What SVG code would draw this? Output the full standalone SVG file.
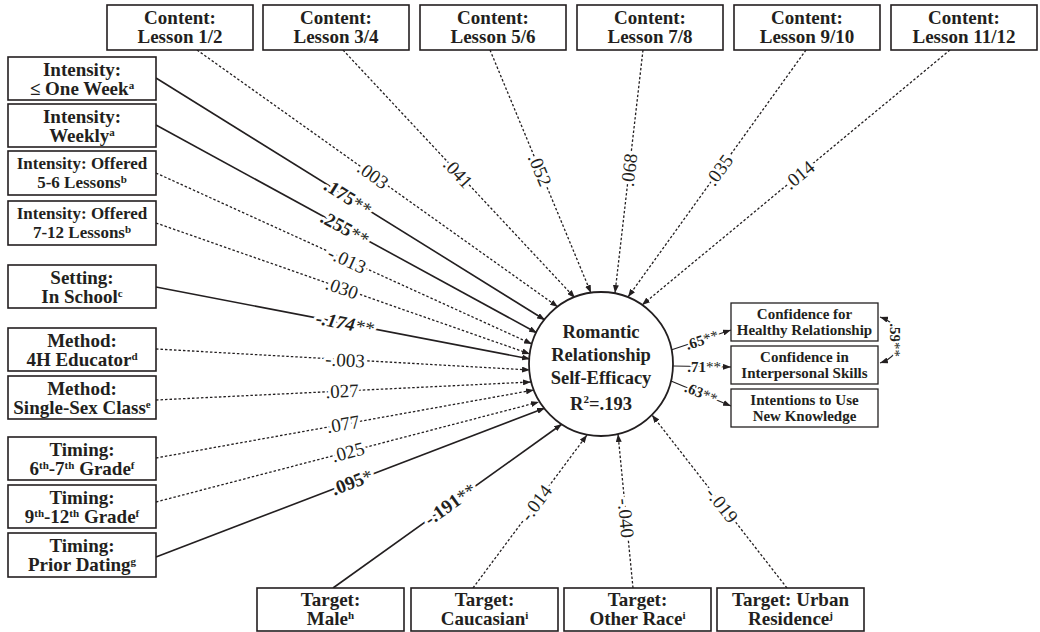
<svg xmlns="http://www.w3.org/2000/svg" width="1040" height="632" viewBox="0 0 1040 632" font-family="'Liberation Serif', 'Times New Roman', 'DejaVu Serif', serif">
<defs>
<marker id="ah" viewBox="0 0 8 6" refX="8" refY="3" markerWidth="8" markerHeight="6" markerUnits="userSpaceOnUse" orient="auto-start-reverse">
<path d="M0,0 L8,3 L0,6 z" fill="#231f20"/>
</marker>
<style>
text{font-family:'Liberation Serif','Times New Roman','DejaVu Serif',serif}
.box{fill:#fff;stroke:#231f20;stroke-width:1.6}
.t{font-weight:bold;font-size:19px;text-anchor:middle;fill:#231f20}
.ts{font-size:17px}
.tr{font-size:15px}
.tc{font-size:18.5px}
.sup{font-size:11px}
.solid{stroke:#231f20;stroke-width:1.6;fill:none;marker-end:url(#ah)}
.dot{stroke:#231f20;stroke-width:1.3;stroke-dasharray:2.5 2;fill:none;marker-end:url(#ah)}
.lab{font-size:19px;text-anchor:middle;dominant-baseline:central;paint-order:stroke;stroke:#fff;stroke-width:6px;stroke-linejoin:round;fill:#231f20}
.b{font-weight:bold}
.n{font-weight:normal}
.rl{font-size:15px;font-weight:bold;stroke-width:4px}
</style>
</defs>

<g id="connectors">
<line class="dot" x1="197" y1="50" x2="558" y2="307"/>
<line class="dot" x1="343" y1="50" x2="575" y2="298"/>
<line class="dot" x1="490" y1="50" x2="591" y2="293"/>
<line class="dot" x1="643" y1="50" x2="615" y2="293"/>
<line class="dot" x1="806" y1="50" x2="628" y2="297"/>
<line class="dot" x1="950" y1="50" x2="642" y2="305"/>
<line class="solid" x1="156" y1="78" x2="545" y2="320"/>
<line class="solid" x1="156" y1="125" x2="537" y2="333"/>
<line class="dot" x1="156" y1="173" x2="532" y2="344"/>
<line class="dot" x1="156" y1="223" x2="530" y2="354"/>
<line class="solid" x1="156" y1="287" x2="530" y2="359"/>
<line class="dot" x1="156" y1="349" x2="530" y2="370"/>
<line class="dot" x1="156" y1="400" x2="531" y2="382"/>
<line class="dot" x1="156" y1="458" x2="534" y2="390"/>
<line class="dot" x1="156" y1="502" x2="539" y2="402"/>
<line class="solid" x1="156" y1="557" x2="545" y2="408"/>
<line class="solid" x1="333" y1="588" x2="562" y2="424"/>
<line class="dot" x1="473" y1="588" x2="587" y2="435"/>
<line class="dot" x1="633" y1="588" x2="618" y2="434"/>
<line class="dot" x1="787" y1="588" x2="652" y2="415"/>
<line class="solid" x1="671" y1="350" x2="731" y2="330" style="stroke-width:1.2"/>
<line class="solid" x1="673" y1="366" x2="731" y2="367" style="stroke-width:1.2"/>
<line class="solid" x1="671" y1="381" x2="731" y2="406" style="stroke-width:1.2"/>
<path class="solid" d="M880,317 C906,326 906,354 880,363" style="stroke-width:1.2;marker-start:url(#ah)"/>

<text class="lab" transform="translate(373,175) rotate(35.4)">.003</text>
<text class="lab" transform="translate(458,173) rotate(46.9)">.041</text>
<text class="lab" transform="translate(540,170) rotate(67.4)">.052</text>
<text class="lab" transform="translate(629,170) rotate(-83.3)">.068</text>
<text class="lab" transform="translate(719,170) rotate(-54.2)">.035</text>
<text class="lab" transform="translate(799,175) rotate(-39.6)">.014</text>

<text class="lab b" transform="translate(348,197) rotate(31.9)">.175<tspan class="n">**</tspan></text>
<text class="lab b" transform="translate(345,228) rotate(28.6)">.255<tspan class="n">**</tspan></text>
<text class="lab" transform="translate(347,260) rotate(24.5)">-.013</text>
<text class="lab" transform="translate(342,288) rotate(19.3)">.030</text>
<text class="lab b" transform="translate(345,323) rotate(10.8)" font-style="italic">-.174<tspan class="n">**</tspan></text>
<text class="lab" transform="translate(345,360) rotate(3.3)">-.003</text>
<text class="lab" transform="translate(342,391) rotate(-2.7)">.027</text>
<text class="lab" transform="translate(343,424) rotate(-10.2)">.077</text>
<text class="lab" transform="translate(348,452) rotate(-14.6)">.025</text>
<text class="lab b" transform="translate(352,482) rotate(-20.9)">.095<tspan class="n">*</tspan></text>

<text class="lab b" transform="translate(450,504) rotate(-35.6)">-.191<tspan class="n">**</tspan></text>
<text class="lab" transform="translate(536,503) rotate(-53.4)">-.014</text>
<text class="lab" transform="translate(626,518) rotate(84.4)">-.040</text>
<text class="lab" transform="translate(722,505) rotate(51.9)">-.019</text>

<text class="lab rl" transform="translate(702,340) rotate(-18.4)">.65<tspan class="n">**</tspan></text>
<text class="lab rl" transform="translate(704,367)">.71<tspan class="n">**</tspan></text>
<text class="lab rl" transform="translate(701,393) rotate(22.6)">.63<tspan class="n">**</tspan></text>
<text class="lab rl" transform="translate(895,340) rotate(90)">.59<tspan class="n">**</tspan></text>
</g>

<g id="outcome">
<circle cx="601" cy="364" r="72" fill="#fff" stroke="#231f20" stroke-width="1.8"/>
<text class="t tc" x="601" y="338">Romantic</text>
<text class="t tc" x="601" y="361">Relationship</text>
<text class="t tc" x="601" y="384">Self-Efficacy</text>
<text class="t tc" x="601" y="410">R<tspan class="sup" dy="-7">2</tspan><tspan dy="7">=.193</tspan></text>
</g>

<g id="top1"><rect class="box" x="107" y="5" width="146" height="45"/><text class="t" x="180" y="24">Content:</text><text class="t" x="180" y="43">Lesson 1/2</text></g>
<g id="top2"><rect class="box" x="263" y="5" width="146" height="45"/><text class="t" x="336" y="24">Content:</text><text class="t" x="336" y="43">Lesson 3/4</text></g>
<g id="top3"><rect class="box" x="420" y="5" width="146" height="45"/><text class="t" x="493" y="24">Content:</text><text class="t" x="493" y="43">Lesson 5/6</text></g>
<g id="top4"><rect class="box" x="577" y="5" width="146" height="45"/><text class="t" x="650" y="24">Content:</text><text class="t" x="650" y="43">Lesson 7/8</text></g>
<g id="top5"><rect class="box" x="734" y="5" width="146" height="45"/><text class="t" x="807" y="24">Content:</text><text class="t" x="807" y="43">Lesson 9/10</text></g>
<g id="top6"><rect class="box" x="891" y="5" width="146" height="45"/><text class="t" x="964" y="24">Content:</text><text class="t" x="964" y="43">Lesson 11/12</text></g>

<g id="left1"><rect class="box" x="8" y="57" width="148" height="43"/><text class="t" x="82" y="76">Intensity:</text><text class="t" x="82" y="95">≤ One Week<tspan class="sup" dy="-6">a</tspan></text></g>
<g id="left2"><rect class="box" x="8" y="104" width="148" height="43"/><text class="t" x="82" y="123">Intensity:</text><text class="t" x="82" y="142">Weekly<tspan class="sup" dy="-6">a</tspan></text></g>
<g id="left3"><rect class="box" x="8" y="151" width="148" height="44"/><text class="t ts" x="82" y="169">Intensity: Offered</text><text class="t ts" x="82" y="188">5-6 Lessons<tspan class="sup" dy="-5">b</tspan></text></g>
<g id="left4"><rect class="box" x="8" y="201" width="148" height="44"/><text class="t ts" x="82" y="219">Intensity: Offered</text><text class="t ts" x="82" y="238">7-12 Lessons<tspan class="sup" dy="-5">b</tspan></text></g>
<g id="left5"><rect class="box" x="8" y="265" width="148" height="43"/><text class="t" x="82" y="284">Setting:</text><text class="t" x="82" y="303">In School<tspan class="sup" dy="-6">c</tspan></text></g>
<g id="left6"><rect class="box" x="8" y="328" width="148" height="43"/><text class="t" x="82" y="347">Method:</text><text class="t" x="82" y="366">4H Educator<tspan class="sup" dy="-6">d</tspan></text></g>
<g id="left7"><rect class="box" x="8" y="376" width="148" height="43"/><text class="t" x="82" y="395">Method:</text><text class="t" x="82" y="414">Single-Sex Class<tspan class="sup" dy="-6">e</tspan></text></g>
<g id="left8"><rect class="box" x="8" y="437" width="148" height="43"/><text class="t" x="82" y="456">Timing:</text><text class="t" x="82" y="475">6<tspan class="sup" dy="-6">th</tspan><tspan dy="6">-7</tspan><tspan class="sup" dy="-6">th</tspan><tspan dy="6"> Grade</tspan><tspan class="sup" dy="-6">f</tspan></text></g>
<g id="left9"><rect class="box" x="8" y="485" width="148" height="43"/><text class="t" x="82" y="504">Timing:</text><text class="t" x="82" y="523">9<tspan class="sup" dy="-6">th</tspan><tspan dy="6">-12</tspan><tspan class="sup" dy="-6">th</tspan><tspan dy="6"> Grade</tspan><tspan class="sup" dy="-6">f</tspan></text></g>
<g id="left10"><rect class="box" x="8" y="533" width="148" height="44"/><text class="t" x="82" y="552">Timing:</text><text class="t" x="82" y="571">Prior Dating<tspan class="sup" dy="-6">g</tspan></text></g>

<g id="bottom1"><rect class="box" x="257" y="588" width="147" height="43"/><text class="t" x="330.5" y="606">Target:</text><text class="t" x="330.5" y="625">Male<tspan class="sup" dy="-6">h</tspan></text></g>
<g id="bottom2"><rect class="box" x="411" y="588" width="147" height="43"/><text class="t" x="484.5" y="606">Target:</text><text class="t" x="484.5" y="625">Caucasian<tspan class="sup" dy="-6">i</tspan></text></g>
<g id="bottom3"><rect class="box" x="564" y="588" width="147" height="43"/><text class="t" x="637.5" y="606">Target:</text><text class="t" x="637.5" y="625">Other Race<tspan class="sup" dy="-6">i</tspan></text></g>
<g id="bottom4"><rect class="box" x="717" y="588" width="147" height="43"/><text class="t" x="790.5" y="606">Target: Urban</text><text class="t" x="790.5" y="625">Residence<tspan class="sup" dy="-6">j</tspan></text></g>

<g id="right1"><rect class="box" x="731" y="303" width="147" height="38" style="stroke-width:1.3"/><text class="t tr" x="804.5" y="319">Confidence for</text><text class="t tr" x="804.5" y="335">Healthy Relationship</text></g>
<g id="right2"><rect class="box" x="731" y="346" width="147" height="38" style="stroke-width:1.3"/><text class="t tr" x="804.5" y="362">Confidence in</text><text class="t tr" x="804.5" y="378">Interpersonal Skills</text></g>
<g id="right3"><rect class="box" x="731" y="389" width="147" height="38" style="stroke-width:1.3"/><text class="t tr" x="804.5" y="405">Intentions to Use</text><text class="t tr" x="804.5" y="421">New Knowledge</text></g>
</svg>
